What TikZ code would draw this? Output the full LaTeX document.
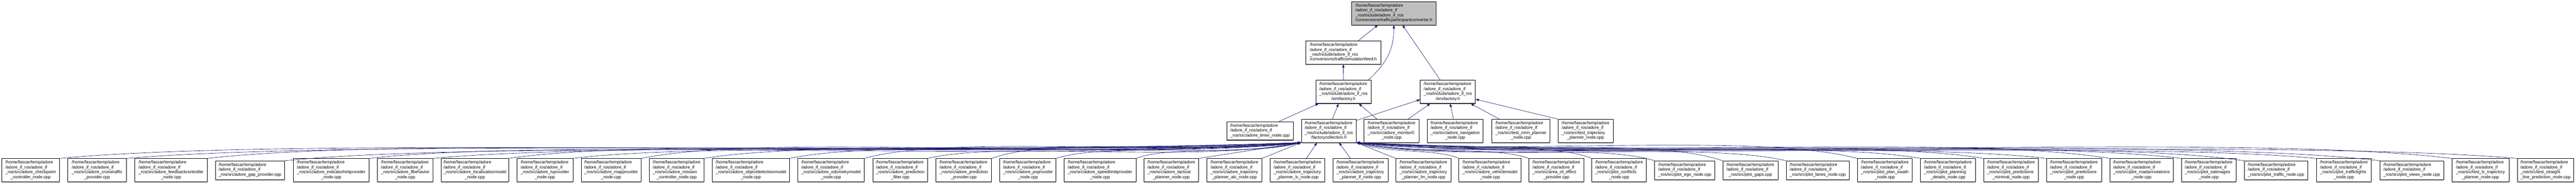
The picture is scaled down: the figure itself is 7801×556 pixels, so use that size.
\documentclass[tikz,border=0pt]{standalone}
\usepackage{fontspec}
\setmainfont{Liberation Sans}
\usetikzlibrary{arrows.meta}
\definecolor{edgec}{HTML}{191970}
\definecolor{topfill}{HTML}{BFBFBF}
\definecolor{shadowc}{HTML}{555555}
\newcommand\lab[2]{\begin{tabular}{@{}l@{}}/home/fascar/temp/adore\\/adore\_if\_ros/adore\_if\\#1\\\multicolumn{1}{@{}c@{}}{#2}\end{tabular}}
\newcommand\labt[1]{\begin{tabular}{@{}l@{}}/home/fascar/temp/adore\\/adore\_if\_ros/adore\_if\\\multicolumn{1}{@{}c@{}}{#1}\end{tabular}}
\tikzset{
  fbox/.style={draw=black, line width=1pt, fill=white, inner xsep=6pt, inner ysep=3pt,
    font=\fontsize{13}{14.7}\selectfont, minimum height=70pt},
  fboxt/.style={fbox, minimum height=56pt},
  fboxtop/.style={fbox, fill=topfill},
  shd/.style={draw=shadowc, line width=2.5pt},
  dep/.style={draw=edgec, line width=1pt, -{Triangle[length=10pt,width=7pt]}},
}
\newcommand\fnode[6]{%
  \node[#1, minimum width={#4-#3}] (#2) at ({(#3+#4)/2},-#5) {#6};
  \draw[shd] ([yshift=-0.6pt]#2.south west) -- ([yshift=-0.6pt]#2.south east);}
\newcommand\ledge[4]{\draw[dep] (#1.north east) .. controls ({#2+0.2*(3941-#2)},-#3) and ({3941-0.3*(3941-#2)},-#4) .. (fc.south west);}
\newcommand\redge[4]{\draw[dep] (#1.north west) .. controls ({#2-0.2*(#2-4107)},-#3) and ({4107+0.3*(#2-4107)},-#4) .. (fc.south east);}
\begin{document}
\begin{tikzpicture}[x=1pt,y=1pt]
\fill[white] (0,0) rectangle (7801,-556);
\useasboundingbox (0,0) rectangle (7801,-556);
% top levels
\fnode{fboxtop}{tpc}{4093}{4349}{40}{\lab{\_ros/include/adore\_if\_ros}{/conversions/trafficparticipantconverter.h}}
\fnode{fbox}{feed}{3954}{4182}{159}{\lab{\_ros/include/adore\_if\_ros}{/conversions/trafficsimulationfeed.h}}
\fnode{fbox}{sim}{3985}{4152}{278}{\lab{\_ros/include/adore\_if\_ros}{/simfactory.h}}
\fnode{fbox}{env}{4301}{4468}{278}{\lab{\_ros/include/adore\_if\_ros}{/envfactory.h}}
% level 4
\fnode{fboxt}{timer}{3715}{3916}{396}{\labt{\_ros/src/adore\_timer\_node.cpp}}
\fnode{fbox}{fc}{3941}{4107}{396}{\lab{\_ros/include/adore\_if\_ros}{/factorycollection.h}}
\fnode{fbox}{mon}{4131}{4297}{396}{\lab{\_ros/src/adore\_monitor0}{\_node.cpp}}
\fnode{fbox}{nav}{4322}{4491}{396}{\lab{\_ros/src/adore\_navigation}{\_node.cpp}}
\fnode{fbox}{mrm}{4518}{4694}{396}{\lab{\_ros/src/test\_mrm\_planner}{\_node.cpp}}
\fnode{fbox}{ttp}{4718}{4885}{396}{\lab{\_ros/src/test\_trajectory}{\_planner\_node.cpp}}
% leaves
\fnode{fbox}{l1}{5}{180}{515}{\lab{\_ros/src/adore\_checkpoint}{\_controller\_node.cpp}}
\fnode{fbox}{l2}{205}{383}{515}{\lab{\_ros/src/adore\_crosstraffic}{\_provider.cpp}}
\fnode{fbox}{l3}{408}{628}{515}{\lab{\_ros/src/adore\_feedbackcontroller}{\_node.cpp}}
\fnode{fboxt}{l4}{652}{862}{515}{\labt{\_ros/src/adore\_gap\_provider.cpp}}
\fnode{fbox}{l5}{889}{1117}{515}{\lab{\_ros/src/adore\_indicatorhintprovider}{\_node.cpp}}
\fnode{fbox}{l6}{1143}{1311}{515}{\lab{\_ros/src/adore\_lfbehavior}{\_node.cpp}}
\fnode{fbox}{l7}{1336}{1540}{515}{\lab{\_ros/src/adore\_localizationmodel}{\_node.cpp}}
\fnode{fbox}{l8}{1565}{1735}{515}{\lab{\_ros/src/adore\_lvprovider}{\_node.cpp}}
\fnode{fbox}{l9}{1760}{1941}{515}{\lab{\_ros/src/adore\_mapprovider}{\_node.cpp}}
\fnode{fbox}{l10}{1966}{2132}{515}{\lab{\_ros/src/adore\_mission}{\_controller\_node.cpp}}
\fnode{fbox}{l11}{2157}{2391}{515}{\lab{\_ros/src/adore\_objectdetectionmodel}{\_node.cpp}}
\fnode{fbox}{l12}{2416}{2617}{515}{\lab{\_ros/src/adore\_odometrymodel}{\_node.cpp}}
\fnode{fbox}{l13}{2643}{2809}{515}{\lab{\_ros/src/adore\_prediction}{\_filter.cpp}}
\fnode{fbox}{l14}{2834}{3003}{515}{\lab{\_ros/src/adore\_prediction}{\_provider.cpp}}
\fnode{fbox}{l15}{3028}{3198}{515}{\lab{\_ros/src/adore\_pvprovider}{\_node.cpp}}
\fnode{fbox}{l16}{3222}{3440}{515}{\lab{\_ros/src/adore\_speedlimitprovider}{\_node.cpp}}
\fnode{fbox}{l17}{3464}{3630}{515}{\lab{\_ros/src/adore\_tactical}{\_planner\_node.cpp}}
\fnode{fbox}{l18}{3655}{3821}{515}{\lab{\_ros/src/adore\_trajectory}{\_planner\_alc\_node.cpp}}
\fnode{fbox}{l19}{3846}{4012}{515}{\lab{\_ros/src/adore\_trajectory}{\_planner\_lc\_node.cpp}}
\fnode{fbox}{l20}{4036}{4203}{515}{\lab{\_ros/src/adore\_trajectory}{\_planner\_lf\_node.cpp}}
\fnode{fbox}{l21}{4227}{4394}{515}{\lab{\_ros/src/adore\_trajectory}{\_planner\_lm\_node.cpp}}
\fnode{fbox}{l22}{4418}{4606}{515}{\lab{\_ros/src/adore\_vehiclemodel}{\_node.cpp}}
\fnode{fbox}{l23}{4630}{4796}{515}{\lab{\_ros/src/area\_of\_effect}{\_provider.cpp}}
\fnode{fbox}{l24}{4820}{4986}{515}{\lab{\_ros/src/plot\_conflicts}{\_node.cpp}}
\fnode{fboxt}{l25}{5011}{5193}{515}{\labt{\_ros/src/plot\_ego\_node.cpp}}
\fnode{fboxt}{l26}{5217}{5384}{515}{\labt{\_ros/src/plot\_gaps.cpp}}
\fnode{fboxt}{l27}{5409}{5600}{515}{\labt{\_ros/src/plot\_lanes\_node.cpp}}
\fnode{fbox}{l28}{5625}{5791}{515}{\lab{\_ros/src/plot\_plan\_swath}{\_node.cpp}}
\fnode{fbox}{l29}{5816}{5982}{515}{\lab{\_ros/src/plot\_planning}{\_details\_node.cpp}}
\fnode{fbox}{l30}{6007}{6173}{515}{\lab{\_ros/src/plot\_predictions}{\_minimal\_node.cpp}}
\fnode{fbox}{l31}{6197}{6364}{515}{\lab{\_ros/src/plot\_predictions}{\_node.cpp}}
\fnode{fbox}{l32}{6389}{6581}{515}{\lab{\_ros/src/plot\_roadannotations}{\_node.cpp}}
\fnode{fbox}{l33}{6606}{6771}{515}{\lab{\_ros/src/plot\_satimages}{\_node.cpp}}
\fnode{fboxt}{l34}{6796}{6989}{515}{\labt{\_ros/src/plot\_traffic\_node.cpp}}
\fnode{fbox}{l35}{7015}{7181}{515}{\lab{\_ros/src/plot\_trafficlights}{\_node.cpp}}
\fnode{fboxt}{l36}{7207}{7400}{515}{\labt{\_ros/src/plot\_views\_node.cpp}}
\fnode{fbox}{l37}{7425}{7598}{515}{\lab{\_ros/src/test\_lc\_trajectory}{\_planner\_node.cpp}}
\fnode{fbox}{l38}{7623}{7794}{515}{\lab{\_ros/src/test\_straight}{\_line\_prediction\_node.cpp}}
% upper edges
\draw[dep] ([xshift=45]feed.north) -- ([xshift=-48]tpc.south);
\draw[dep] ([xshift=-9]sim.north east) .. controls (4200,-190) and (4221,-150) .. (tpc.south);
\draw[dep] ([xshift=-23]env.north) -- ([xshift=26]tpc.south);
\draw[dep] (sim.north) -- (feed.south);
\draw[dep] ([xshift=58]timer.north) -- ([xshift=9]sim.south west);
\draw[dep] ([xshift=11]fc.north) -- ([xshift=-15]sim.south);
\draw[dep] ([yshift=-4]fc.north east) -- ([yshift=12]env.south west);
\draw[dep] ([xshift=-44]mon.north) -- ([xshift=46]sim.south);
\draw[dep] ([xshift=50]mon.north) -- ([xshift=31]env.south west);
\draw[dep] ([xshift=-5]nav.north) -- ([xshift=7]env.south);
\draw[dep] ([xshift=23]mrm.north west) -- ([xshift=-15]env.south east);
\draw[dep] (ttp.north west) -- ([yshift=13]env.south east);
% leaf edges, left side
\ledge{l1}{180}{410}{480}
\ledge{l2}{383}{420}{470}
\ledge{l3}{628}{405}{490}
\ledge{l4}{862}{425}{475}
\ledge{l5}{1117}{415}{495}
\ledge{l6}{1311}{430}{465}
\ledge{l7}{1540}{410}{485}
\ledge{l8}{1735}{425}{480}
\ledge{l9}{1941}{400}{490}
\ledge{l10}{2132}{420}{470}
\ledge{l11}{2391}{415}{485}
\ledge{l12}{2617}{405}{475}
\ledge{l13}{2809}{425}{495}
\ledge{l14}{3003}{410}{470}
\ledge{l15}{3198}{430}{480}
\ledge{l16}{3440}{440}{470}
\draw[dep] (l17.north east) -- (fc.south west);
\draw[dep] (l18.north east) -- (fc.south west);
\draw[dep] ([xshift=27]l19.north) -- ([xshift=48]fc.south west);
\draw[dep] ([xshift=-30]l20.north) -- ([xshift=31]fc.south);
\draw[dep] (l21.north west) -- (fc.south east);
% leaf edges, right side
\redge{l22}{4418}{450}{465}
\redge{l23}{4630}{440}{470}
\redge{l24}{4820}{420}{480}
\redge{l25}{5011}{430}{490}
\redge{l26}{5217}{410}{475}
\redge{l27}{5409}{425}{495}
\redge{l28}{5625}{400}{470}
\redge{l29}{5816}{420}{485}
\redge{l30}{6007}{415}{490}
\redge{l31}{6197}{430}{475}
\redge{l32}{6389}{405}{480}
\redge{l33}{6606}{420}{470}
\redge{l34}{6796}{410}{495}
\redge{l35}{7015}{425}{485}
\redge{l36}{7207}{415}{475}
\redge{l37}{7425}{400}{490}
\redge{l38}{7623}{420}{480}
\end{tikzpicture}
\end{document}
